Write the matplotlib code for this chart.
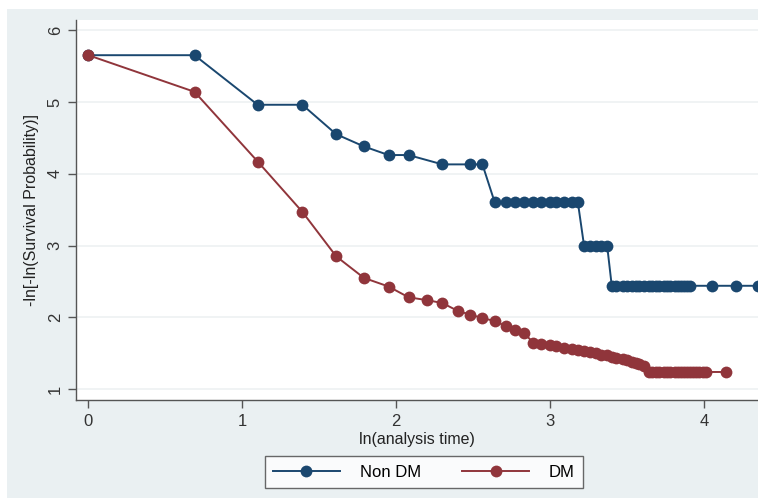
import matplotlib
matplotlib.use("Agg")
import matplotlib.pyplot as plt
from matplotlib.patches import Rectangle

plt.rcParams['font.family'] = ['Liberation Sans', 'DejaVu Sans']

# ln(analysis time) and -ln[-ln(S)]
nondm_x = [0.00, 0.69, 1.10, 1.39, 1.61, 1.79, 1.95, 2.08, 2.30, 2.48, 2.56,
           2.64, 2.71, 2.77, 2.83, 2.89, 2.94, 3.00, 3.04, 3.09, 3.14, 3.18,
           3.22, 3.26, 3.30, 3.33, 3.37,
           3.40, 3.43, 3.47, 3.50, 3.53, 3.56, 3.58, 3.61, 3.64, 3.66, 3.69,
           3.71, 3.74, 3.76, 3.78, 3.81, 3.83, 3.85, 3.87, 3.89, 3.91,
           4.05, 4.21, 4.35]
nondm_y = [5.65, 5.65, 4.96, 4.96, 4.55, 4.38, 4.26, 4.26, 4.13, 4.13, 4.13,
           3.60, 3.60, 3.60, 3.60, 3.60, 3.60, 3.60, 3.60, 3.60, 3.60, 3.60,
           3.00, 3.00, 3.00, 3.00, 3.00,
           2.44, 2.44, 2.44, 2.44, 2.44, 2.44, 2.44, 2.44, 2.44, 2.44, 2.44,
           2.44, 2.44, 2.44, 2.44, 2.44, 2.44, 2.44, 2.44, 2.44, 2.44,
           2.44, 2.44, 2.44]

dm_x = [0.00, 0.69, 1.10, 1.39, 1.61, 1.79, 1.95, 2.08, 2.20, 2.30, 2.40,
        2.48, 2.56, 2.64, 2.71, 2.77, 2.83, 2.89, 2.94, 3.00, 3.04, 3.09,
        3.14, 3.18, 3.22, 3.26, 3.30, 3.33, 3.37, 3.40, 3.43, 3.47, 3.50,
        3.53, 3.56, 3.58, 3.61,
        3.64, 3.66, 3.69, 3.71, 3.74, 3.76, 3.78, 3.81, 3.83, 3.85, 3.87,
        3.89, 3.91, 3.93, 3.95, 3.97, 3.99, 4.01, 4.14]
dm_y = [5.65, 5.14, 4.17, 3.47, 2.85, 2.55, 2.43, 2.28, 2.24, 2.20, 2.09,
        2.04, 1.99, 1.95, 1.88, 1.82, 1.78, 1.65, 1.63, 1.62, 1.60, 1.58,
        1.56, 1.54, 1.53, 1.52, 1.50, 1.48, 1.47, 1.45, 1.43, 1.42, 1.40,
        1.38, 1.36, 1.35, 1.33,
        1.24, 1.24, 1.24, 1.24, 1.24, 1.24, 1.24, 1.24, 1.24, 1.24, 1.24,
        1.24, 1.24, 1.24, 1.24, 1.24, 1.24, 1.24, 1.24]

x_ticks = [0, 1, 2, 3, 4]
y_ticks = [1, 2, 3, 4, 5, 6]

bg = '#eaf0f2'
navy = '#1a476f'
maroon = '#90353b'

fig = plt.figure(figsize=(7.58, 4.98), dpi=100, facecolor='white')
# stata-like outer region, image is cropped with a thin white margin
fig.patches.append(Rectangle((7 / 758, 0), 1, 1 - 9 / 498, transform=fig.transFigure,
                             facecolor=bg, edgecolor='none', zorder=-10))

ax = fig.add_axes([76 / 758, 98 / 498, 682 / 758, 380 / 498])
ax.set_facecolor('white')

ax.plot(nondm_x, nondm_y, color=navy, lw=1.4, marker='o', ms=8.5,
        markeredgewidth=0, label='Non DM', alpha=1, clip_on=False)
ax.plot(dm_x, dm_y, color=maroon, lw=1.4, marker='o', ms=8.5,
        markeredgewidth=0, label='DM', clip_on=False)

ax.set_xlim(-0.08, 4.35)
ax.set_ylim(0.85, 6.14)
ax.set_xticks(x_ticks)
ax.set_yticks(y_ticks)
ax.grid(axis='y', color='#edf1f2', lw=1.2)
ax.set_axisbelow(True)

for s in ['top', 'right']:
    ax.spines[s].set_visible(False)
for s in ['left', 'bottom']:
    ax.spines[s].set_color('#555555')
    ax.spines[s].set_linewidth(1.0)

ax.tick_params(axis='both', direction='out', length=6, width=1, color='#555555',
               labelsize=12, labelcolor='#333333')
ax.tick_params(axis='x', pad=4)
for lab in ax.get_yticklabels():
    lab.set_rotation(90)
    lab.set_va('center')

ax.set_xlabel('ln(analysis time)', fontsize=11.5, color='#222222', labelpad=2)
ax.set_ylabel('-ln[-ln(Survival Probability)]', fontsize=11.5, color='#222222',
              labelpad=6)

leg = fig.legend(loc='center', bbox_to_anchor=(424 / 758, 26 / 498), ncol=2,
                 frameon=True, fancybox=False, fontsize=12, handlelength=4,
                 columnspacing=2.5, borderpad=0.5, handletextpad=1.2)
leg.get_frame().set_edgecolor('#444444')
leg.get_frame().set_linewidth(1.0)
leg.get_frame().set_facecolor('white')

fig.savefig('out.png', dpi=100, facecolor=fig.get_facecolor())
